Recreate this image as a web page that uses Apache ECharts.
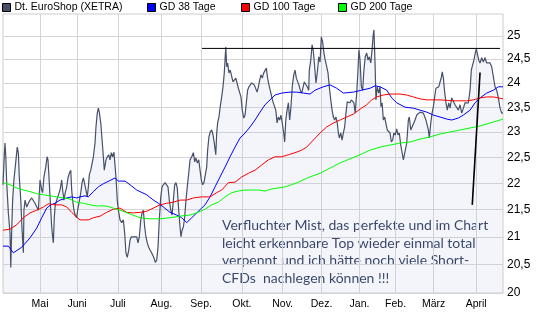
<!DOCTYPE html>
<html><head><meta charset="utf-8">
<script src="https://cdn.jsdelivr.net/npm/echarts@6/dist/echarts.min.js"></script>
<style>html,body{margin:0;padding:0;background:#fff}#c{width:545px;height:327px}</style>
</head><body><div id="c"></div>
<script>
// x = trading-day index since start of chart
const monthDays = [20, 40, 62, 85.5, 107, 129, 151, 172, 192.5, 212, 232.5, 255.5];
const monthLabels = ['Mai','Juni','Juli','Aug.','Sep.','Okt.','Nov.','Dez.','Jan.','Feb.','März','April'];
const yTicks = [20, 20.5, 21, 21.5, 22, 22.5, 23, 23.5, 24, 24.5, 25];
const yRange = [20, 25.48];
const xRange = [0, 270];

const priceData = [
[0,21.97],[0.7,22.55],[1.1,22.78],[1.5,22.51],[2.0,22.01],[2.9,21.44],[3.8,21.07],[4.2,20.45],[4.7,21.12],[5.2,21.68],
[5.9,22.06],[7.0,22.45],[7.7,22.70],[8.3,22.58],[8.8,22.12],[9.6,21.68],[10.3,21.12],[11.0,20.71],[11.3,21.49],[11.9,21.68],
[12.8,21.55],[13.7,21.62],[14.6,21.68],[15.5,21.72],[16.4,21.74],[17.3,21.62],[18.2,21.59],[19.1,21.49],[20.0,22.06],[20.9,21.87],
[21.4,21.82],[22.1,22.12],[23.1,22.31],[23.8,22.51],[24.3,22.45],[25.0,22.01],[25.8,21.49],[26.3,21.18],[26.8,21.0],[27.2,20.89],
[27.7,21.36],[28.2,21.59],[29.0,21.68],[29.9,21.68],[30.8,21.87],[31.7,22.06],[32.2,21.87],[32.9,21.68],[33.6,21.82],[34.4,21.93],
[35.1,22.10],[35.8,22.19],[36.6,22.25],[37.1,21.87],[37.6,21.68],[38.3,21.49],[39.0,21.40],[39.8,21.35],[40.3,21.49],[41.0,21.62],
[42.0,21.82],[42.7,22.01],[43.4,22.10],[44.1,22.12],[44.8,21.87],[45.5,21.74],[46.1,21.93],[46.6,22.16],[47.4,22.25],[48.1,22.25],
[48.8,22.51],[49.7,22.78],[50.2,23.10],[50.9,23.38],[51.5,23.48],[52.0,23.40],[52.8,23.18],[53.5,22.84],[54.2,22.51],[54.7,22.25],
[55.6,22.45],[56.3,22.51],[57.1,22.55],[57.8,22.45],[58.5,22.59],[59.2,22.51],[59.9,22.60],[60.5,22.60],[61.0,22.12],[61.7,21.68],
[62.3,21.49],[63.2,21.31],[64.1,21.26],[65.0,21.31],[65.7,21.07],[66.4,20.71],[67.1,20.63],[67.9,20.76],[68.6,20.94],[69.3,21.0],
[70.0,21.03],[70.7,21.0],[71.4,21.03],[72.2,21.0],[72.9,20.89],[73.6,21.0],[74.4,21.31],[75.1,21.44],[75.8,21.49],[76.5,21.18],
[77.2,21.0],[77.9,20.89],[78.7,20.81],[79.4,20.76],[80.1,20.72],[80.8,20.71],[81.5,20.62],[82.2,20.54],[83.0,20.58],[83.7,20.81],
[84.4,21.31],[85.2,21.74],[85.9,21.93],[86.6,21.97],[87.5,22.01],[88.4,22.02],[89.1,21.93],[89.8,21.68],[90.6,21.49],[91.3,21.40],
[92.0,21.68],[92.7,21.97],[93.4,22.01],[94.1,21.91],[94.9,21.49],[95.6,21.18],[96.1,21.0],[96.7,21.12],[97.4,21.18],[98.1,21.36],
[98.8,21.68],[99.5,21.93],[100.3,22.19],[101.0,22.45],[101.9,22.51],[102.8,22.59],[103.5,22.41],[104.2,22.49],[104.9,22.39],[105.7,22.45],
[106.4,22.25],[107.1,22.06],[107.8,21.97],[108.5,22.01],
[110.0,22.31],[110.5,22.64],[111.2,22.90],[111.9,23.0],[112.7,23.04],[113.4,22.94],[114.1,22.78],[114.9,22.55],[115.4,22.98],[115.9,23.18],
[116.6,23.30],[117.3,23.51],[118.1,23.71],[118.8,23.92],[119.5,24.21],[119.9,24.48],[120.3,24.76],[120.8,24.34],[121.3,24.42],[122.0,24.21],
[122.7,24.27],[123.5,24.23],[124.2,24.02],[124.9,24.0],[125.7,24.10],[126.4,24.06],[127.1,23.89],[127.8,23.85],[128.5,23.71],[129.2,23.44],
[130.0,23.28],[130.7,23.34],[131.4,23.59],[132.1,23.85],[132.8,23.92],[133.5,23.96],[134.3,24.0],[135.0,24.02],[135.7,23.96],[136.5,23.92],
[137.2,23.81],[137.9,23.92],[138.6,24.06],[139.3,24.17],[140.0,24.10],[140.8,24.21],[141.5,24.23],[142.2,24.31],[142.9,24.10],[143.6,23.96],
[144.3,23.85],[145.1,23.71],[145.8,23.61],[146.5,23.65],[147.3,23.44],[148.0,23.18],[148.7,23.30],[149.4,23.24],[150.1,23.34],[150.8,23.18],
[151.6,22.98],[152.1,22.80],[152.7,23.24],[153.4,23.44],[154.1,23.59],[154.8,23.24],[155.5,23.51],[156.2,23.92],[157.0,24.17],[157.7,24.27],
[158.4,24.10],[159.1,24.06],[159.8,23.96],[160.5,23.85],[161.3,23.79],[162.0,23.75],
[162.7,24.02],[163.1,24.06],[163.6,24.0],[164.3,23.92],[165.1,23.85],[165.4,24.27],[166.2,24.48],[166.9,24.81],[167.6,24.66],[168.3,24.34],
[169.0,24.0],[169.7,24.21],[170.5,24.55],[171.2,24.44],[171.9,24.98],[172.6,24.87],[173.3,24.63],[174.0,24.48],[174.8,24.34],[175.5,24.21],
[176.2,23.92],[177.0,23.65],[177.7,23.44],[178.4,23.30],[179.1,23.24],[179.8,23.30],[180.5,23.18],[181.1,22.98],[181.6,22.88],[182.4,22.98],
[183.1,22.84],[183.8,22.98],[184.5,23.10],[185.2,23.38],[185.9,23.61],[186.7,23.65],[187.4,23.59],[188.1,23.65],[188.8,23.61],[189.5,23.59],
[190.2,23.38],[191.0,23.79],[191.7,24.27],[192.2,24.70],[192.8,24.48],[193.5,23.92],[194.2,23.85],[194.9,24.27],[195.6,24.55],[196.4,24.63],
[197.1,24.48],[197.8,24.55],[198.6,24.42],[199.3,24.70],[199.8,24.98],[200.3,25.13],[200.9,24.42],[201.4,23.65],[202.1,23.92],[202.9,23.79],
[203.6,23.92],[204.1,23.51],[204.7,23.59],[205.4,23.24],[206.1,23.30],[206.8,23.30],[207.5,23.04],[208.3,23.08],[209.0,22.98],[209.7,22.80],
[210.4,22.84],[211.1,22.98],[211.8,22.94],[212.6,23.06],[213.3,22.94],[214.0,22.98],[214.8,22.74],[215.5,22.59],[216.2,22.45],[216.9,22.43],
[218.0,22.78],[218.9,23.24],[219.4,23.30],[220.2,23.04],[220.9,23.10],[221.6,23.08],[222.5,23.24],[223.4,23.34],[225.2,23.40],[227.0,23.38],
[228.4,23.24],[229.7,23.04],[230.2,22.88],[231.0,23.18],[231.7,23.38],[232.4,23.51],[233.1,23.71],[233.8,23.89],[234.5,23.85],[235.3,23.92],
[236.0,24.02],[236.7,24.12],[237.2,24.23],[237.8,24.10],[238.5,23.81],[239.2,23.59],[239.9,23.44],[240.7,23.59],[241.4,23.48],[242.3,23.69],
[243.2,23.65],[244.1,23.55],[245.0,23.59],[245.9,23.44],[246.8,23.55],[247.7,23.38],[248.6,23.48],[249.5,23.59],[250.4,23.61],[251.3,23.59],
[252.2,23.85],[252.9,24.27],[253.6,24.38],[254.3,24.48],[255.0,24.63],[255.6,24.72],[256.1,24.63],[256.9,24.48],[257.6,24.42],[258.5,24.53],
[259.4,24.44],[260.3,24.53],[261.2,24.42],[262.1,24.44],[263.0,24.42],[263.9,24.34],[264.8,24.31],[265.7,23.92],[266.6,23.85],[267.5,23.69],
[268.4,23.48],[269.3,23.38],[270.0,23.38]
];

const gd38Data = [
[0,20.83],[2.9,20.83],[5.6,20.71],[10.1,20.81],[14.6,20.98],[18.2,21.16],[20.9,21.35],[23.6,21.53],[25.8,21.59],[28.1,21.62],
[30.8,21.68],[34.4,21.72],[37.1,21.74],[39.8,21.72],[41.6,21.74],[44.3,21.76],[46.1,21.74],[48.8,21.84],[51.5,21.93],[54.2,21.99],
[56.0,22.02],[60.5,22.10],[62.3,22.04],[65.9,22.04],[68.6,21.97],[72.2,21.87],[77.6,21.78],[81.2,21.68],[83.9,21.62],[86.6,21.55],
[90.2,21.45],[93.8,21.40],[96.5,21.35],[99.2,21.26],[101.9,21.35],[104.6,21.44],[107.3,21.53],[109.1,21.59],[111.8,21.74],[114.5,21.93],
[117.2,22.12],[119.9,22.31],[122.6,22.51],[125.3,22.70],[128.0,22.88],[130.7,22.98],[133.4,23.10],[136.1,23.24],[138.8,23.40],[141.5,23.55],
[144.2,23.65],[146.9,23.75],[150.5,23.79],[155.0,23.81],[158.6,23.81],[162.2,23.79],[165.8,23.77],[168.5,23.85],[173.0,23.92],[176.6,23.96],
[180.2,23.89],[183.8,23.79],[189.2,23.81],[193.7,23.85],[198.2,23.89],[200.9,23.94],[203.6,23.92],[207.2,23.85],[209.9,23.69],[212.6,23.59],
[217.1,23.50],[221.6,23.48],[225.2,23.44],[228.8,23.40],[232.4,23.34],[236.0,23.30],[239.6,23.26],[242.3,23.24],[245.9,23.28],[248.6,23.34],
[252.2,23.44],[254.9,23.59],[257.6,23.69],[261.2,23.79],[264.8,23.85],[267.5,23.92],[270,23.92]
];

const gd100Data = [
[0,21.12],[3.8,21.14],[7.4,21.22],[11.0,21.35],[14.6,21.44],[18.2,21.49],[21.8,21.55],[24.5,21.61],[28.1,21.59],[31.7,21.59],
[34.4,21.55],[37.1,21.45],[39.8,21.36],[41.6,21.31],[46.1,21.31],[48.8,21.35],[52.4,21.38],[56.0,21.45],[59.6,21.51],[63.2,21.53],
[66.8,21.45],[70.4,21.44],[74.0,21.45],[77.6,21.47],[81.2,21.53],[84.8,21.59],[88.4,21.62],[92.0,21.64],[95.6,21.68],[99.2,21.68],
[102.8,21.72],[107.3,21.74],[111.8,21.74],[115.4,21.82],[118.1,21.87],[121.7,22.01],[125.3,22.02],[128.9,22.12],[132.5,22.19],[136.1,22.25],
[139.7,22.35],[143.3,22.45],[146.9,22.51],[150.5,22.51],[154.1,22.55],[157.7,22.59],[161.3,22.64],[164.0,22.70],[167.6,22.84],[171.2,22.98],
[174.8,23.10],[178.4,23.18],[182.0,23.24],[185.6,23.30],[189.2,23.36],[192.8,23.46],[196.4,23.55],[199.1,23.65],[201.8,23.71],[205.4,23.75],
[209.0,23.77],[214.4,23.77],[218.0,23.75],[221.6,23.71],[225.2,23.67],[228.8,23.65],[236.0,23.65],[243.2,23.63],[250.4,23.63],[254.0,23.65],
[257.6,23.69],[261.2,23.71],[264.8,23.71],[267.5,23.69],[270,23.67]
];

const gd200Data = [
[0,22.01],[3.8,21.97],[7.4,21.91],[11.0,21.87],[14.6,21.84],[18.2,21.80],[21.8,21.78],[25.4,21.76],[29.0,21.74],[32.6,21.72],
[36.2,21.70],[39.8,21.64],[43.4,21.62],[47.0,21.59],[50.6,21.57],[55.1,21.57],[57.8,21.55],[63.2,21.49],[68.6,21.42],[74.0,21.35],
[79.4,21.33],[84.8,21.33],[90.2,21.35],[95.6,21.38],[101.0,21.40],[104.6,21.44],[109.1,21.51],[112.7,21.59],[116.3,21.64],[119.9,21.74],
[123.5,21.82],[127.1,21.85],[130.7,21.87],[134.3,21.87],[137.9,21.87],[141.5,21.85],[145.1,21.89],[148.7,21.91],[152.3,21.93],[155.9,21.97],
[159.5,22.02],[163.1,22.08],[165.8,22.12],[171.2,22.19],[176.6,22.29],[182.0,22.39],[187.4,22.47],[192.8,22.55],[198.2,22.64],[203.6,22.70],
[209.0,22.74],[214.4,22.78],[219.8,22.80],[225.2,22.86],[230.6,22.90],[236.0,22.96],[241.4,23.00],[246.8,23.04],[252.2,23.08],[257.6,23.12],
[263.0,23.18],[268.4,23.24],[270,23.26]
];

// hand-drawn annotation lines (day, price)
const resistanceLine = [[107.5,24.73],[268.4,24.73]];
const trendLine = [[253.4,21.59],[257.6,24.22]];
const noteLines = [
  'Verfluchter Mist, das perfekte und im Chart',
  'leicht erkennbare Top wieder einmal total',
  'verpennt und ich hätte noch viele Short-',
  'CFDs  nachlegen können !!!'
];
const seriesNames = ['Dt. EuroShop (XETRA)', 'GD 38 Tage', 'GD 100 Tage', 'GD 200 Tage'];
const seriesColors = ['#465068', '#0000ff', '#ff0000', '#00ff00'];

const toLog = arr => arr.map(p => [p[0], Math.log(p[1])]);
const fmtY = v => String(Math.round(Math.exp(v) * 2) / 2).replace('.', ',');
const FONT = 'Liberation Sans, Arial, sans-serif';

const legendLefts = [2, 147, 241, 338];
const legends = seriesNames.map((n, i) => ({
  left: legendLefts[i], top: 2, padding: 0, itemGap: 0,
  itemWidth: 8, itemHeight: 8, selectedMode: false,
  data: [{ name: n, icon: 'rect' }],
  itemStyle: { color: seriesColors[i], borderColor: '#000', borderWidth: 1 },
  textStyle: { fontSize: 10.5, fontFamily: FONT, color: '#000', padding: [0,0,0,-1] }
}));

const lineSeries = (name, data, color, extra) => Object.assign({
  name, type: 'line', data: toLog(data), symbol: 'none', showSymbol: false,
  lineStyle: { color, width: 1 }, itemStyle: { color }, silent: true,
  animation: false
}, extra || {});

const chart = echarts.init(document.getElementById('c'), null, { renderer: 'canvas' });
chart.setOption({
  backgroundColor: '#fff',
  animation: false,
  legend: legends,
  grid: { left: 3, right: 42, top: 14, bottom: 34, show: true, borderColor: '#cccccc', borderWidth: 1,
          backgroundColor: 'transparent', containLabel: false, outerBoundsMode: 'none' },
  xAxis: {
    type: 'value', min: xRange[0], max: xRange[1],
    axisLine: { show: false }, axisTick: { show: false, customValues: monthDays },
    axisLabel: { customValues: monthDays, formatter: v => monthLabels[monthDays.indexOf(v)],
                 fontSize: 10.5, fontFamily: FONT, color: '#000', margin: 6 },
    splitLine: { show: true, lineStyle: { color: '#d4d4d4', width: 1 } }
  },
  yAxis: {
    type: 'value', position: 'right', min: Math.log(yRange[0]), max: Math.log(yRange[1]),
    axisLine: { show: false }, axisTick: { show: false, customValues: yTicks.map(Math.log) },
    axisLabel: { customValues: yTicks.map(Math.log), formatter: fmtY,
                 fontSize: 12, fontFamily: FONT, color: '#000', margin: 4 },
    splitLine: { show: true, lineStyle: { color: '#d4d4d4', width: 1 } }
  },
  series: [
    lineSeries(seriesNames[0], priceData, seriesColors[0], {
      lineStyle: { color: seriesColors[0], width: 1.2 },
      areaStyle: { color: 'rgba(187,199,231,0.25)', origin: 'start' }, z: 2 }),
    lineSeries(seriesNames[1], gd38Data, seriesColors[1], { z: 3 }),
    lineSeries(seriesNames[2], gd100Data, seriesColors[2], { z: 3 }),
    lineSeries(seriesNames[3], gd200Data, seriesColors[3], { z: 3 }),
    lineSeries('Widerstand', resistanceLine, '#000', { z: 4, lineStyle: { color: '#000', width: 1 } }),
    lineSeries('Trend', trendLine, '#000', { z: 4, lineStyle: { color: '#000', width: 1.6 } })
  ],
  graphic: [{
    type: 'text', left: 222, top: 217, silent: true,
    style: { text: noteLines.join('\n'), fontSize: 14, fontFamily: 'Lato, sans-serif',
             fill: '#1c2a4e', lineHeight: 17.5 }
  }]
});
</script></body></html>
